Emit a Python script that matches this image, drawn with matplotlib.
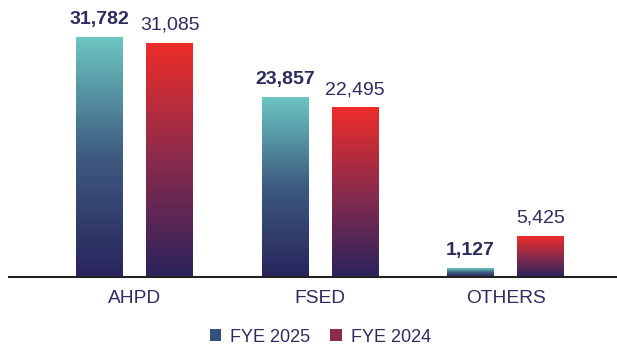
import numpy as np
import matplotlib
matplotlib.use("Agg")
from matplotlib import pyplot as plt
from matplotlib.colors import LinearSegmentedColormap
from matplotlib.patches import Patch

plt.rcParams['font.family'] = ['Liberation Sans', 'DejaVu Sans']

categories = ['AHPD', 'FSED', 'OTHERS']
fye_2025 = [31782, 23857, 1127]
fye_2024 = [31085, 22495, 5425]
series_names = ['FYE 2025', 'FYE 2024']

navy = '#2d2c5f'
teal_grad = LinearSegmentedColormap.from_list('teal', ['#29245c', '#3d5a80', '#6cc6c1'])
red_grad = LinearSegmentedColormap.from_list('red', ['#2b235c', '#8a2b4c', '#ee2d29'])
legend_colors = ['#34507e', '#8b2a4a']

fig = plt.figure(figsize=(6.17, 3.47), dpi=100)
ax = fig.add_axes([9 / 617, 70 / 347, 608 / 617, 277 / 347])

x = np.arange(len(categories))
width = 0.253
offset = 0.189

bars_a = ax.bar(x - offset, fye_2025, width, color='none')
bars_b = ax.bar(x + offset, fye_2024, width, color='none')

# vertical gradient painted inside each bar's rectangle
grad = np.linspace(0, 1, 256).reshape(-1, 1)
for bars, cmap in ((bars_a, teal_grad), (bars_b, red_grad)):
    for b in bars:
        x0, y0 = b.get_x(), b.get_y()
        ax.imshow(grad, cmap=cmap, origin='lower', aspect='auto',
                  extent=(x0, x0 + b.get_width(), y0, y0 + b.get_height()),
                  zorder=2)

for b, v in zip(bars_a, fye_2025):
    ax.annotate(f'{v:,}', (b.get_x() + b.get_width() / 2, v),
                xytext=(0, 7), textcoords='offset points',
                ha='center', va='bottom', fontsize=14, fontweight='bold', color=navy)
for b, v in zip(bars_b, fye_2024):
    ax.annotate(f'{v:,}', (b.get_x() + b.get_width() / 2, v),
                xytext=(0, 7), textcoords='offset points',
                ha='center', va='bottom', fontsize=14, color=navy)

ax.set_xlim(-0.677, 2.601)
ax.set_ylim(0, 36835)
ax.set_xticks(x)
ax.set_xticklabels(categories, fontsize=13.8, color=navy)
ax.tick_params(axis='x', length=0, pad=9.5)
ax.set_yticks([])
for side in ('left', 'right', 'top'):
    ax.spines[side].set_visible(False)
ax.spines['bottom'].set_color('#222222')
ax.spines['bottom'].set_linewidth(1.5)
ax.spines['bottom'].set_zorder(3)

handles = [Patch(facecolor=c, edgecolor='none') for c in legend_colors]
fig.legend(handles, series_names, loc='center', bbox_to_anchor=(320.5 / 617, 10 / 347),
           ncol=2, frameon=False, fontsize=13, labelcolor=navy,
           handlelength=0.65, handleheight=0.65, handletextpad=0.5, columnspacing=1.1)

fig.savefig('out.png', dpi=100)
